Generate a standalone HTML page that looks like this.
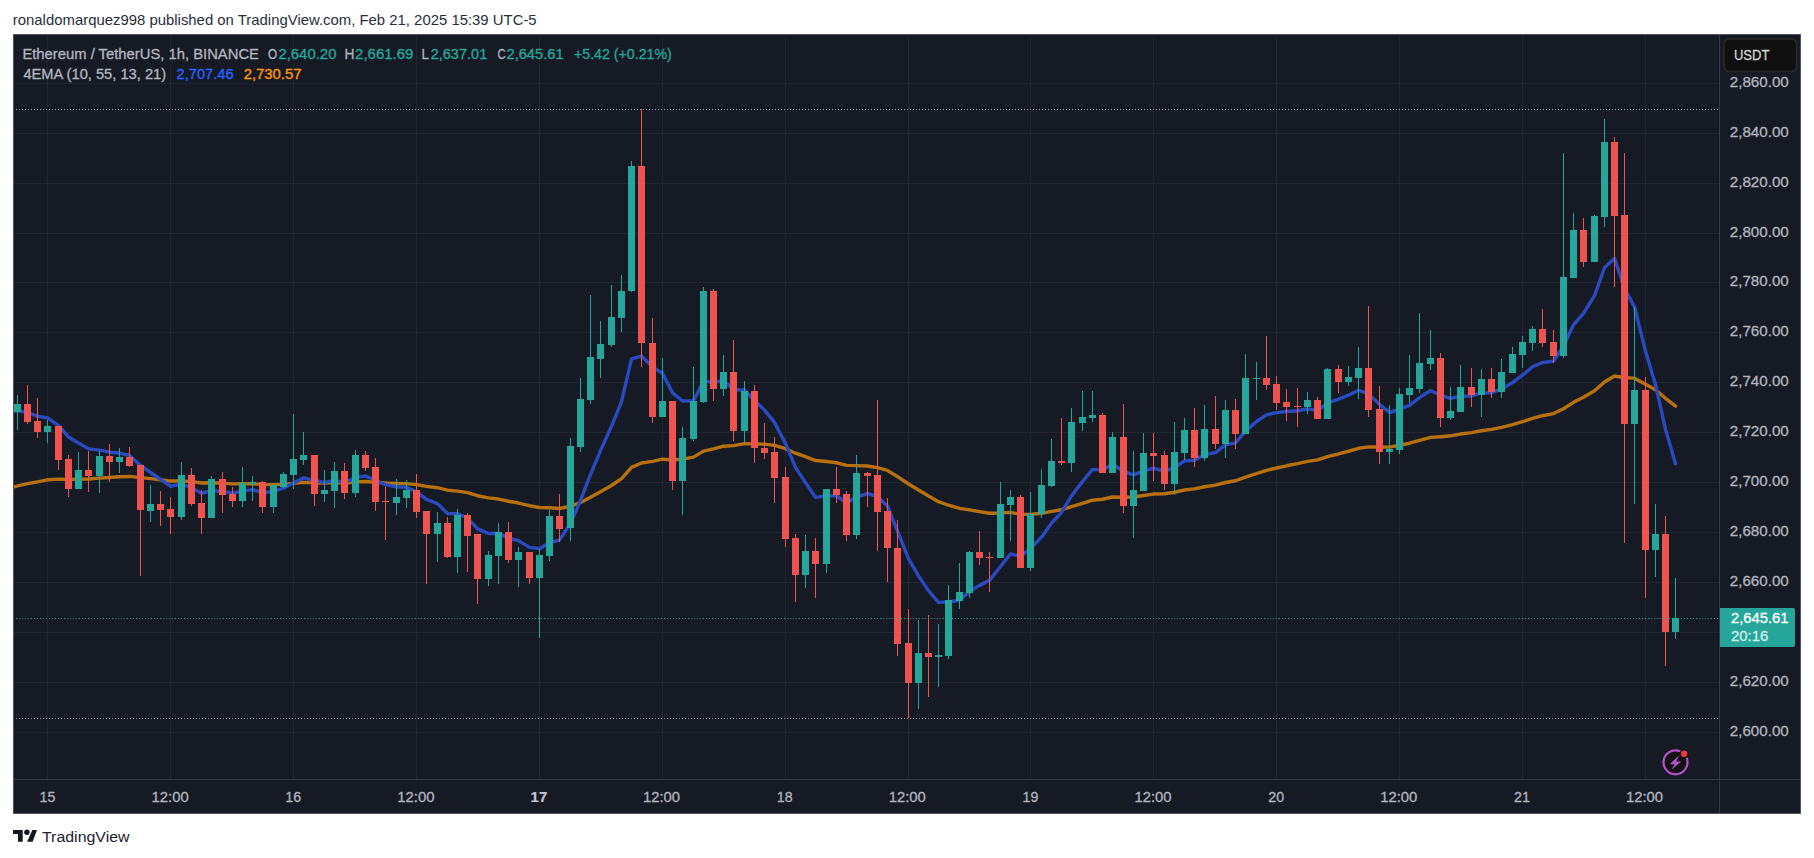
<!DOCTYPE html><html><head><meta charset="utf-8"><style>html,body{margin:0;padding:0;background:#fff;width:1814px;height:858px;overflow:hidden}svg{position:absolute;left:0;top:0;display:block}text{font-family:"Liberation Sans",sans-serif}</style></head><body>
<svg width="1814" height="858" viewBox="0 0 1814 858" shape-rendering="crispEdges">
<text x="12.80" y="24.85" font-size="15" textLength="523.85" lengthAdjust="spacingAndGlyphs" fill="#2a2e39" stroke="#2a2e39" stroke-width="0" >ronaldomarquez998 published on TradingView.com, Feb 21, 2025 15:39 UTC-5</text>
<rect x="13" y="34" width="1788" height="780" fill="#161a25"/>
<rect x="14" y="83" width="1705" height="1" fill="#21252f"/>
<rect x="14" y="133" width="1705" height="1" fill="#21252f"/>
<rect x="14" y="183" width="1705" height="1" fill="#21252f"/>
<rect x="14" y="233" width="1705" height="1" fill="#21252f"/>
<rect x="14" y="282" width="1705" height="1" fill="#21252f"/>
<rect x="14" y="332" width="1705" height="1" fill="#21252f"/>
<rect x="14" y="382" width="1705" height="1" fill="#21252f"/>
<rect x="14" y="432" width="1705" height="1" fill="#21252f"/>
<rect x="14" y="482" width="1705" height="1" fill="#21252f"/>
<rect x="14" y="532" width="1705" height="1" fill="#21252f"/>
<rect x="14" y="582" width="1705" height="1" fill="#21252f"/>
<rect x="14" y="632" width="1705" height="1" fill="#21252f"/>
<rect x="14" y="682" width="1705" height="1" fill="#21252f"/>
<rect x="14" y="732" width="1705" height="1" fill="#21252f"/>
<rect x="47" y="35" width="1" height="744" fill="#21252f"/>
<rect x="170" y="35" width="1" height="744" fill="#21252f"/>
<rect x="293" y="35" width="1" height="744" fill="#21252f"/>
<rect x="416" y="35" width="1" height="744" fill="#21252f"/>
<rect x="539" y="35" width="1" height="744" fill="#21252f"/>
<rect x="662" y="35" width="1" height="744" fill="#21252f"/>
<rect x="785" y="35" width="1" height="744" fill="#21252f"/>
<rect x="908" y="35" width="1" height="744" fill="#21252f"/>
<rect x="1030" y="35" width="1" height="744" fill="#21252f"/>
<rect x="1153" y="35" width="1" height="744" fill="#21252f"/>
<rect x="1276" y="35" width="1" height="744" fill="#21252f"/>
<rect x="1399" y="35" width="1" height="744" fill="#21252f"/>
<rect x="1522" y="35" width="1" height="744" fill="#21252f"/>
<rect x="1645" y="35" width="1" height="744" fill="#21252f"/>
<line x1="16" y1="109.5" x2="1718" y2="109.5" stroke="#a3a6ad" stroke-width="1" stroke-dasharray="1 2"/>
<line x1="16" y1="718.5" x2="1718" y2="718.5" stroke="#a3a6ad" stroke-width="1" stroke-dasharray="1 2"/>
<defs><clipPath id="pane"><rect x="14" y="35" width="1705" height="744"/></clipPath></defs>
<g clip-path="url(#pane)">
<polyline points="6.5,489.00 17.5,485.96 27.5,483.67 37.5,481.81 47.5,479.82 58.5,479.10 68.5,479.45 78.5,479.10 88.5,478.97 99.5,478.14 109.5,477.55 119.5,476.81 129.5,476.43 140.5,477.65 150.5,478.60 160.5,479.71 170.5,481.06 181.5,480.84 191.5,481.66 201.5,482.96 211.5,482.82 222.5,483.24 232.5,483.86 242.5,483.82 252.5,483.76 262.5,484.59 273.5,484.62 283.5,484.24 293.5,483.34 303.5,482.34 314.5,482.74 324.5,483.00 334.5,482.58 344.5,482.95 355.5,481.96 365.5,481.45 375.5,482.18 385.5,482.90 396.5,483.40 406.5,483.64 416.5,484.64 426.5,486.39 437.5,487.71 447.5,490.19 457.5,491.07 467.5,492.67 477.5,495.74 488.5,497.84 498.5,499.06 508.5,501.24 518.5,503.04 529.5,505.72 539.5,507.46 549.5,507.76 559.5,508.50 570.5,506.27 580.5,502.44 590.5,497.24 600.5,491.76 611.5,485.51 621.5,478.56 631.5,467.40 641.5,462.97 652.5,461.34 662.5,459.18 672.5,459.95 682.5,459.17 693.5,457.09 703.5,451.15 713.5,448.93 723.5,446.18 733.5,445.64 744.5,443.69 754.5,443.86 764.5,444.18 774.5,445.38 785.5,448.72 795.5,453.22 805.5,456.71 815.5,460.54 826.5,461.56 836.5,462.76 846.5,465.33 856.5,465.59 867.5,465.96 877.5,467.59 887.5,470.48 897.5,476.66 908.5,484.02 918.5,490.07 928.5,496.02 938.5,501.71 948.5,505.23 959.5,508.34 969.5,509.91 979.5,511.62 989.5,513.27 1000.5,512.95 1010.5,512.38 1020.5,514.36 1030.5,514.34 1041.5,513.30 1051.5,511.43 1061.5,509.70 1071.5,506.56 1082.5,503.36 1092.5,500.20 1102.5,499.23 1112.5,497.00 1123.5,497.32 1133.5,497.05 1143.5,495.48 1153.5,494.07 1164.5,493.72 1174.5,492.23 1184.5,490.01 1194.5,488.86 1204.5,486.72 1215.5,485.18 1225.5,482.50 1235.5,480.76 1245.5,477.10 1256.5,473.57 1266.5,470.40 1276.5,467.98 1286.5,465.79 1297.5,463.69 1307.5,461.43 1317.5,459.90 1327.5,456.65 1338.5,453.98 1348.5,451.24 1358.5,448.27 1368.5,446.91 1379.5,447.07 1389.5,447.15 1399.5,445.26 1409.5,443.21 1419.5,440.35 1430.5,437.42 1440.5,436.71 1450.5,435.80 1460.5,434.05 1471.5,432.65 1481.5,430.74 1491.5,429.35 1501.5,427.31 1512.5,424.69 1522.5,421.74 1532.5,418.42 1542.5,415.73 1553.5,413.58 1563.5,408.71 1573.5,402.32 1583.5,397.30 1594.5,390.83 1604.5,381.94 1614.5,376.01 1624.5,377.73 1634.5,378.17 1645.5,384.32 1655.5,389.67 1665.5,398.31 1675.5,406.16" fill="none" stroke="#b8700c" stroke-width="3.4" stroke-linejoin="round" stroke-linecap="round" shape-rendering="auto"/>
<polyline points="6.5,412.00 17.5,410.50 27.5,412.58 37.5,416.06 47.5,417.85 58.5,425.46 68.5,436.98 78.5,442.93 88.5,448.86 99.5,450.11 109.5,452.19 119.5,453.04 129.5,455.44 140.5,465.45 150.5,472.49 160.5,479.27 170.5,486.22 181.5,484.15 191.5,487.75 201.5,493.24 211.5,490.66 222.5,491.38 232.5,493.08 242.5,491.16 252.5,489.56 262.5,492.70 273.5,491.37 283.5,488.25 293.5,482.94 303.5,477.88 314.5,480.73 324.5,482.42 334.5,480.42 344.5,482.68 355.5,477.66 365.5,475.89 375.5,480.58 385.5,484.55 396.5,486.82 406.5,487.41 416.5,491.83 426.5,499.43 437.5,503.74 447.5,513.45 457.5,513.73 467.5,517.77 477.5,528.83 488.5,533.51 498.5,533.24 508.5,538.09 518.5,540.59 529.5,547.37 539.5,548.68 549.5,542.69 559.5,540.11 570.5,523.02 580.5,500.45 590.5,474.34 600.5,450.61 611.5,426.30 621.5,401.68 631.5,358.83 641.5,356.03 652.5,367.16 662.5,373.29 672.5,392.84 682.5,401.05 693.5,401.02 703.5,381.01 713.5,382.44 723.5,380.55 733.5,389.70 744.5,389.97 754.5,400.58 764.5,410.11 774.5,422.42 785.5,443.60 795.5,467.41 805.5,482.61 815.5,497.38 826.5,495.90 836.5,495.75 846.5,502.83 856.5,497.36 867.5,493.44 877.5,496.76 887.5,506.15 897.5,531.14 908.5,558.70 918.5,575.91 928.5,590.63 938.5,602.37 948.5,602.02 959.5,600.24 969.5,591.50 979.5,585.39 989.5,580.36 1000.5,566.52 1010.5,553.93 1020.5,556.42 1030.5,548.69 1041.5,537.16 1051.5,523.27 1061.5,512.33 1071.5,495.87 1082.5,481.52 1092.5,469.40 1102.5,470.08 1112.5,464.02 1123.5,471.61 1133.5,474.93 1143.5,470.96 1153.5,468.26 1164.5,471.14 1174.5,467.68 1184.5,460.83 1194.5,460.27 1204.5,454.60 1215.5,452.59 1225.5,444.89 1235.5,442.87 1245.5,431.12 1256.5,421.47 1266.5,414.81 1276.5,412.62 1286.5,411.55 1297.5,410.71 1307.5,408.84 1317.5,410.62 1327.5,403.04 1338.5,399.18 1348.5,395.17 1358.5,390.27 1368.5,393.87 1379.5,404.36 1389.5,412.52 1399.5,409.19 1409.5,405.32 1419.5,397.62 1430.5,390.47 1440.5,395.43 1450.5,398.30 1460.5,396.20 1471.5,395.97 1481.5,392.89 1491.5,392.71 1501.5,388.95 1512.5,382.62 1522.5,375.23 1532.5,366.81 1542.5,362.47 1553.5,361.24 1563.5,345.92 1573.5,324.84 1583.5,313.39 1594.5,295.68 1604.5,267.72 1614.5,258.31 1624.5,288.47 1634.5,306.93 1645.5,351.20 1655.5,384.47 1665.5,429.39 1675.5,463.70" fill="none" stroke="#2a4bc0" stroke-width="3.4" stroke-linejoin="round" stroke-linecap="round" shape-rendering="auto"/>
<rect x="17" y="395" width="1" height="35" fill="#26a69a"/>
<rect x="14" y="404" width="7" height="8" fill="#26a69a"/>
<rect x="27" y="385" width="1" height="39" fill="#ef5350"/>
<rect x="24" y="404" width="7" height="18" fill="#ef5350"/>
<rect x="37" y="398" width="1" height="40" fill="#ef5350"/>
<rect x="34" y="421" width="7" height="11" fill="#ef5350"/>
<rect x="47" y="420" width="1" height="23" fill="#26a69a"/>
<rect x="44" y="426" width="7" height="6" fill="#26a69a"/>
<rect x="58" y="426" width="1" height="44" fill="#ef5350"/>
<rect x="55" y="426" width="7" height="34" fill="#ef5350"/>
<rect x="68" y="455" width="1" height="42" fill="#ef5350"/>
<rect x="65" y="459" width="7" height="30" fill="#ef5350"/>
<rect x="78" y="452" width="1" height="37" fill="#26a69a"/>
<rect x="75" y="470" width="7" height="19" fill="#26a69a"/>
<rect x="88" y="451" width="1" height="41" fill="#ef5350"/>
<rect x="85" y="470" width="7" height="6" fill="#ef5350"/>
<rect x="99" y="451" width="1" height="42" fill="#26a69a"/>
<rect x="96" y="456" width="7" height="20" fill="#26a69a"/>
<rect x="109" y="444" width="1" height="38" fill="#ef5350"/>
<rect x="106" y="456" width="7" height="6" fill="#ef5350"/>
<rect x="119" y="448" width="1" height="25" fill="#26a69a"/>
<rect x="116" y="457" width="7" height="5" fill="#26a69a"/>
<rect x="129" y="447" width="1" height="20" fill="#ef5350"/>
<rect x="126" y="457" width="7" height="9" fill="#ef5350"/>
<rect x="140" y="465" width="1" height="111" fill="#ef5350"/>
<rect x="137" y="465" width="7" height="45" fill="#ef5350"/>
<rect x="150" y="485" width="1" height="37" fill="#26a69a"/>
<rect x="147" y="504" width="7" height="7" fill="#26a69a"/>
<rect x="160" y="491" width="1" height="35" fill="#ef5350"/>
<rect x="157" y="504" width="7" height="6" fill="#ef5350"/>
<rect x="170" y="497" width="1" height="37" fill="#ef5350"/>
<rect x="167" y="509" width="7" height="8" fill="#ef5350"/>
<rect x="181" y="462" width="1" height="58" fill="#26a69a"/>
<rect x="178" y="475" width="7" height="42" fill="#26a69a"/>
<rect x="191" y="468" width="1" height="38" fill="#ef5350"/>
<rect x="188" y="475" width="7" height="29" fill="#ef5350"/>
<rect x="201" y="490" width="1" height="44" fill="#ef5350"/>
<rect x="198" y="503" width="7" height="15" fill="#ef5350"/>
<rect x="211" y="476" width="1" height="42" fill="#26a69a"/>
<rect x="208" y="479" width="7" height="39" fill="#26a69a"/>
<rect x="222" y="472" width="1" height="41" fill="#ef5350"/>
<rect x="219" y="479" width="7" height="16" fill="#ef5350"/>
<rect x="232" y="487" width="1" height="20" fill="#ef5350"/>
<rect x="229" y="494" width="7" height="7" fill="#ef5350"/>
<rect x="242" y="467" width="1" height="40" fill="#26a69a"/>
<rect x="239" y="483" width="7" height="18" fill="#26a69a"/>
<rect x="252" y="476" width="1" height="25" fill="#26a69a"/>
<rect x="249" y="482" width="7" height="2" fill="#26a69a"/>
<rect x="262" y="481" width="1" height="32" fill="#ef5350"/>
<rect x="259" y="482" width="7" height="25" fill="#ef5350"/>
<rect x="273" y="485" width="1" height="28" fill="#26a69a"/>
<rect x="270" y="485" width="7" height="22" fill="#26a69a"/>
<rect x="283" y="472" width="1" height="16" fill="#26a69a"/>
<rect x="280" y="474" width="7" height="13" fill="#26a69a"/>
<rect x="293" y="414" width="1" height="75" fill="#26a69a"/>
<rect x="290" y="459" width="7" height="16" fill="#26a69a"/>
<rect x="303" y="432" width="1" height="33" fill="#26a69a"/>
<rect x="300" y="455" width="7" height="5" fill="#26a69a"/>
<rect x="314" y="455" width="1" height="51" fill="#ef5350"/>
<rect x="311" y="455" width="7" height="39" fill="#ef5350"/>
<rect x="324" y="470" width="1" height="32" fill="#26a69a"/>
<rect x="321" y="490" width="7" height="4" fill="#26a69a"/>
<rect x="334" y="462" width="1" height="46" fill="#26a69a"/>
<rect x="331" y="471" width="7" height="20" fill="#26a69a"/>
<rect x="344" y="463" width="1" height="36" fill="#ef5350"/>
<rect x="341" y="471" width="7" height="22" fill="#ef5350"/>
<rect x="355" y="450" width="1" height="47" fill="#26a69a"/>
<rect x="352" y="455" width="7" height="38" fill="#26a69a"/>
<rect x="365" y="451" width="1" height="20" fill="#ef5350"/>
<rect x="362" y="455" width="7" height="13" fill="#ef5350"/>
<rect x="375" y="458" width="1" height="53" fill="#ef5350"/>
<rect x="372" y="467" width="7" height="35" fill="#ef5350"/>
<rect x="385" y="487" width="1" height="53" fill="#ef5350"/>
<rect x="382" y="501" width="7" height="1" fill="#ef5350"/>
<rect x="396" y="479" width="1" height="36" fill="#26a69a"/>
<rect x="393" y="497" width="7" height="6" fill="#26a69a"/>
<rect x="406" y="480" width="1" height="28" fill="#26a69a"/>
<rect x="403" y="490" width="7" height="8" fill="#26a69a"/>
<rect x="416" y="474" width="1" height="44" fill="#ef5350"/>
<rect x="413" y="490" width="7" height="22" fill="#ef5350"/>
<rect x="426" y="511" width="1" height="73" fill="#ef5350"/>
<rect x="423" y="511" width="7" height="23" fill="#ef5350"/>
<rect x="437" y="512" width="1" height="50" fill="#26a69a"/>
<rect x="434" y="523" width="7" height="11" fill="#26a69a"/>
<rect x="447" y="517" width="1" height="41" fill="#ef5350"/>
<rect x="444" y="523" width="7" height="34" fill="#ef5350"/>
<rect x="457" y="509" width="1" height="64" fill="#26a69a"/>
<rect x="454" y="515" width="7" height="42" fill="#26a69a"/>
<rect x="467" y="513" width="1" height="59" fill="#ef5350"/>
<rect x="464" y="515" width="7" height="21" fill="#ef5350"/>
<rect x="477" y="534" width="1" height="70" fill="#ef5350"/>
<rect x="474" y="534" width="7" height="45" fill="#ef5350"/>
<rect x="488" y="551" width="1" height="35" fill="#26a69a"/>
<rect x="485" y="555" width="7" height="24" fill="#26a69a"/>
<rect x="498" y="523" width="1" height="61" fill="#26a69a"/>
<rect x="495" y="532" width="7" height="24" fill="#26a69a"/>
<rect x="508" y="522" width="1" height="41" fill="#ef5350"/>
<rect x="505" y="532" width="7" height="28" fill="#ef5350"/>
<rect x="518" y="547" width="1" height="40" fill="#26a69a"/>
<rect x="515" y="552" width="7" height="8" fill="#26a69a"/>
<rect x="529" y="552" width="1" height="32" fill="#ef5350"/>
<rect x="526" y="552" width="7" height="26" fill="#ef5350"/>
<rect x="539" y="549" width="1" height="89" fill="#26a69a"/>
<rect x="536" y="555" width="7" height="23" fill="#26a69a"/>
<rect x="549" y="510" width="1" height="51" fill="#26a69a"/>
<rect x="546" y="516" width="7" height="40" fill="#26a69a"/>
<rect x="559" y="494" width="1" height="48" fill="#ef5350"/>
<rect x="556" y="516" width="7" height="13" fill="#ef5350"/>
<rect x="570" y="438" width="1" height="103" fill="#26a69a"/>
<rect x="567" y="446" width="7" height="82" fill="#26a69a"/>
<rect x="580" y="378" width="1" height="74" fill="#26a69a"/>
<rect x="577" y="399" width="7" height="48" fill="#26a69a"/>
<rect x="590" y="295" width="1" height="109" fill="#26a69a"/>
<rect x="587" y="357" width="7" height="43" fill="#26a69a"/>
<rect x="600" y="321" width="1" height="57" fill="#26a69a"/>
<rect x="597" y="344" width="7" height="15" fill="#26a69a"/>
<rect x="611" y="285" width="1" height="62" fill="#26a69a"/>
<rect x="608" y="317" width="7" height="28" fill="#26a69a"/>
<rect x="621" y="275" width="1" height="57" fill="#26a69a"/>
<rect x="618" y="291" width="7" height="27" fill="#26a69a"/>
<rect x="631" y="161" width="1" height="131" fill="#26a69a"/>
<rect x="628" y="166" width="7" height="125" fill="#26a69a"/>
<rect x="641" y="109" width="1" height="258" fill="#ef5350"/>
<rect x="638" y="166" width="7" height="177" fill="#ef5350"/>
<rect x="652" y="318" width="1" height="105" fill="#ef5350"/>
<rect x="649" y="343" width="7" height="74" fill="#ef5350"/>
<rect x="662" y="358" width="1" height="59" fill="#26a69a"/>
<rect x="659" y="401" width="7" height="16" fill="#26a69a"/>
<rect x="672" y="401" width="1" height="89" fill="#ef5350"/>
<rect x="669" y="401" width="7" height="80" fill="#ef5350"/>
<rect x="682" y="427" width="1" height="88" fill="#26a69a"/>
<rect x="679" y="438" width="7" height="43" fill="#26a69a"/>
<rect x="693" y="367" width="1" height="74" fill="#26a69a"/>
<rect x="690" y="401" width="7" height="38" fill="#26a69a"/>
<rect x="703" y="287" width="1" height="116" fill="#26a69a"/>
<rect x="700" y="291" width="7" height="111" fill="#26a69a"/>
<rect x="713" y="289" width="1" height="112" fill="#ef5350"/>
<rect x="710" y="291" width="7" height="98" fill="#ef5350"/>
<rect x="723" y="355" width="1" height="41" fill="#26a69a"/>
<rect x="720" y="372" width="7" height="17" fill="#26a69a"/>
<rect x="733" y="340" width="1" height="101" fill="#ef5350"/>
<rect x="730" y="372" width="7" height="59" fill="#ef5350"/>
<rect x="744" y="381" width="1" height="61" fill="#26a69a"/>
<rect x="741" y="391" width="7" height="40" fill="#26a69a"/>
<rect x="754" y="385" width="1" height="78" fill="#ef5350"/>
<rect x="751" y="391" width="7" height="57" fill="#ef5350"/>
<rect x="764" y="423" width="1" height="36" fill="#ef5350"/>
<rect x="761" y="448" width="7" height="5" fill="#ef5350"/>
<rect x="774" y="437" width="1" height="66" fill="#ef5350"/>
<rect x="771" y="452" width="7" height="26" fill="#ef5350"/>
<rect x="785" y="467" width="1" height="80" fill="#ef5350"/>
<rect x="782" y="477" width="7" height="62" fill="#ef5350"/>
<rect x="795" y="534" width="1" height="68" fill="#ef5350"/>
<rect x="792" y="538" width="7" height="37" fill="#ef5350"/>
<rect x="805" y="535" width="1" height="53" fill="#26a69a"/>
<rect x="802" y="551" width="7" height="24" fill="#26a69a"/>
<rect x="815" y="538" width="1" height="60" fill="#ef5350"/>
<rect x="812" y="551" width="7" height="13" fill="#ef5350"/>
<rect x="826" y="489" width="1" height="84" fill="#26a69a"/>
<rect x="823" y="489" width="7" height="75" fill="#26a69a"/>
<rect x="836" y="467" width="1" height="36" fill="#ef5350"/>
<rect x="833" y="489" width="7" height="6" fill="#ef5350"/>
<rect x="846" y="491" width="1" height="50" fill="#ef5350"/>
<rect x="843" y="494" width="7" height="41" fill="#ef5350"/>
<rect x="856" y="455" width="1" height="84" fill="#26a69a"/>
<rect x="853" y="473" width="7" height="62" fill="#26a69a"/>
<rect x="867" y="472" width="1" height="35" fill="#ef5350"/>
<rect x="864" y="473" width="7" height="3" fill="#ef5350"/>
<rect x="877" y="400" width="1" height="151" fill="#ef5350"/>
<rect x="874" y="475" width="7" height="37" fill="#ef5350"/>
<rect x="887" y="498" width="1" height="84" fill="#ef5350"/>
<rect x="884" y="511" width="7" height="37" fill="#ef5350"/>
<rect x="897" y="520" width="1" height="136" fill="#ef5350"/>
<rect x="894" y="548" width="7" height="96" fill="#ef5350"/>
<rect x="908" y="609" width="1" height="109" fill="#ef5350"/>
<rect x="905" y="643" width="7" height="40" fill="#ef5350"/>
<rect x="918" y="620" width="1" height="89" fill="#26a69a"/>
<rect x="915" y="653" width="7" height="30" fill="#26a69a"/>
<rect x="928" y="615" width="1" height="82" fill="#ef5350"/>
<rect x="925" y="653" width="7" height="4" fill="#ef5350"/>
<rect x="938" y="624" width="1" height="63" fill="#26a69a"/>
<rect x="935" y="655" width="7" height="2" fill="#26a69a"/>
<rect x="948" y="585" width="1" height="74" fill="#26a69a"/>
<rect x="945" y="600" width="7" height="56" fill="#26a69a"/>
<rect x="959" y="563" width="1" height="46" fill="#26a69a"/>
<rect x="956" y="592" width="7" height="9" fill="#26a69a"/>
<rect x="969" y="551" width="1" height="47" fill="#26a69a"/>
<rect x="966" y="552" width="7" height="41" fill="#26a69a"/>
<rect x="979" y="531" width="1" height="34" fill="#ef5350"/>
<rect x="976" y="552" width="7" height="6" fill="#ef5350"/>
<rect x="989" y="552" width="1" height="40" fill="#ef5350"/>
<rect x="986" y="557" width="7" height="1" fill="#ef5350"/>
<rect x="1000" y="482" width="1" height="76" fill="#26a69a"/>
<rect x="997" y="504" width="7" height="54" fill="#26a69a"/>
<rect x="1010" y="490" width="1" height="51" fill="#26a69a"/>
<rect x="1007" y="497" width="7" height="8" fill="#26a69a"/>
<rect x="1020" y="495" width="1" height="73" fill="#ef5350"/>
<rect x="1017" y="497" width="7" height="71" fill="#ef5350"/>
<rect x="1030" y="492" width="1" height="79" fill="#26a69a"/>
<rect x="1027" y="514" width="7" height="54" fill="#26a69a"/>
<rect x="1041" y="469" width="1" height="49" fill="#26a69a"/>
<rect x="1038" y="485" width="7" height="29" fill="#26a69a"/>
<rect x="1051" y="439" width="1" height="48" fill="#26a69a"/>
<rect x="1048" y="461" width="7" height="25" fill="#26a69a"/>
<rect x="1061" y="418" width="1" height="47" fill="#ef5350"/>
<rect x="1058" y="461" width="7" height="2" fill="#ef5350"/>
<rect x="1071" y="408" width="1" height="64" fill="#26a69a"/>
<rect x="1068" y="422" width="7" height="41" fill="#26a69a"/>
<rect x="1082" y="391" width="1" height="40" fill="#26a69a"/>
<rect x="1079" y="417" width="7" height="6" fill="#26a69a"/>
<rect x="1092" y="391" width="1" height="31" fill="#26a69a"/>
<rect x="1089" y="415" width="7" height="3" fill="#26a69a"/>
<rect x="1102" y="413" width="1" height="60" fill="#ef5350"/>
<rect x="1099" y="415" width="7" height="58" fill="#ef5350"/>
<rect x="1112" y="432" width="1" height="41" fill="#26a69a"/>
<rect x="1109" y="437" width="7" height="36" fill="#26a69a"/>
<rect x="1123" y="404" width="1" height="109" fill="#ef5350"/>
<rect x="1120" y="437" width="7" height="69" fill="#ef5350"/>
<rect x="1133" y="451" width="1" height="87" fill="#26a69a"/>
<rect x="1130" y="490" width="7" height="16" fill="#26a69a"/>
<rect x="1143" y="433" width="1" height="58" fill="#26a69a"/>
<rect x="1140" y="453" width="7" height="38" fill="#26a69a"/>
<rect x="1153" y="433" width="1" height="48" fill="#ef5350"/>
<rect x="1150" y="453" width="7" height="3" fill="#ef5350"/>
<rect x="1164" y="451" width="1" height="39" fill="#ef5350"/>
<rect x="1161" y="455" width="7" height="29" fill="#ef5350"/>
<rect x="1174" y="422" width="1" height="73" fill="#26a69a"/>
<rect x="1171" y="452" width="7" height="32" fill="#26a69a"/>
<rect x="1184" y="418" width="1" height="42" fill="#26a69a"/>
<rect x="1181" y="430" width="7" height="23" fill="#26a69a"/>
<rect x="1194" y="408" width="1" height="59" fill="#ef5350"/>
<rect x="1191" y="430" width="7" height="28" fill="#ef5350"/>
<rect x="1204" y="405" width="1" height="56" fill="#26a69a"/>
<rect x="1201" y="429" width="7" height="29" fill="#26a69a"/>
<rect x="1215" y="396" width="1" height="53" fill="#ef5350"/>
<rect x="1212" y="429" width="7" height="15" fill="#ef5350"/>
<rect x="1225" y="400" width="1" height="58" fill="#26a69a"/>
<rect x="1222" y="410" width="7" height="34" fill="#26a69a"/>
<rect x="1235" y="399" width="1" height="50" fill="#ef5350"/>
<rect x="1232" y="410" width="7" height="24" fill="#ef5350"/>
<rect x="1245" y="354" width="1" height="80" fill="#26a69a"/>
<rect x="1242" y="378" width="7" height="56" fill="#26a69a"/>
<rect x="1256" y="362" width="1" height="38" fill="#26a69a"/>
<rect x="1253" y="378" width="7" height="1" fill="#26a69a"/>
<rect x="1266" y="336" width="1" height="54" fill="#ef5350"/>
<rect x="1263" y="378" width="7" height="7" fill="#ef5350"/>
<rect x="1276" y="376" width="1" height="34" fill="#ef5350"/>
<rect x="1273" y="384" width="7" height="19" fill="#ef5350"/>
<rect x="1286" y="389" width="1" height="32" fill="#ef5350"/>
<rect x="1283" y="402" width="7" height="5" fill="#ef5350"/>
<rect x="1297" y="388" width="1" height="39" fill="#ef5350"/>
<rect x="1294" y="406" width="7" height="1" fill="#ef5350"/>
<rect x="1307" y="392" width="1" height="22" fill="#26a69a"/>
<rect x="1304" y="400" width="7" height="7" fill="#26a69a"/>
<rect x="1317" y="397" width="1" height="22" fill="#ef5350"/>
<rect x="1314" y="400" width="7" height="19" fill="#ef5350"/>
<rect x="1327" y="368" width="1" height="51" fill="#26a69a"/>
<rect x="1324" y="369" width="7" height="50" fill="#26a69a"/>
<rect x="1338" y="365" width="1" height="28" fill="#ef5350"/>
<rect x="1335" y="369" width="7" height="13" fill="#ef5350"/>
<rect x="1348" y="366" width="1" height="20" fill="#26a69a"/>
<rect x="1345" y="377" width="7" height="5" fill="#26a69a"/>
<rect x="1358" y="347" width="1" height="52" fill="#26a69a"/>
<rect x="1355" y="368" width="7" height="10" fill="#26a69a"/>
<rect x="1368" y="306" width="1" height="111" fill="#ef5350"/>
<rect x="1365" y="368" width="7" height="42" fill="#ef5350"/>
<rect x="1379" y="386" width="1" height="78" fill="#ef5350"/>
<rect x="1376" y="409" width="7" height="43" fill="#ef5350"/>
<rect x="1389" y="405" width="1" height="59" fill="#26a69a"/>
<rect x="1386" y="449" width="7" height="3" fill="#26a69a"/>
<rect x="1399" y="388" width="1" height="66" fill="#26a69a"/>
<rect x="1396" y="394" width="7" height="56" fill="#26a69a"/>
<rect x="1409" y="355" width="1" height="48" fill="#26a69a"/>
<rect x="1406" y="388" width="7" height="7" fill="#26a69a"/>
<rect x="1419" y="313" width="1" height="80" fill="#26a69a"/>
<rect x="1416" y="363" width="7" height="26" fill="#26a69a"/>
<rect x="1430" y="330" width="1" height="40" fill="#26a69a"/>
<rect x="1427" y="358" width="7" height="6" fill="#26a69a"/>
<rect x="1440" y="353" width="1" height="74" fill="#ef5350"/>
<rect x="1437" y="358" width="7" height="60" fill="#ef5350"/>
<rect x="1450" y="387" width="1" height="33" fill="#26a69a"/>
<rect x="1447" y="411" width="7" height="7" fill="#26a69a"/>
<rect x="1460" y="365" width="1" height="47" fill="#26a69a"/>
<rect x="1457" y="387" width="7" height="25" fill="#26a69a"/>
<rect x="1471" y="368" width="1" height="39" fill="#ef5350"/>
<rect x="1468" y="387" width="7" height="8" fill="#ef5350"/>
<rect x="1481" y="369" width="1" height="48" fill="#26a69a"/>
<rect x="1478" y="379" width="7" height="16" fill="#26a69a"/>
<rect x="1491" y="368" width="1" height="30" fill="#ef5350"/>
<rect x="1488" y="379" width="7" height="13" fill="#ef5350"/>
<rect x="1501" y="359" width="1" height="39" fill="#26a69a"/>
<rect x="1498" y="372" width="7" height="20" fill="#26a69a"/>
<rect x="1512" y="347" width="1" height="26" fill="#26a69a"/>
<rect x="1509" y="354" width="7" height="19" fill="#26a69a"/>
<rect x="1522" y="336" width="1" height="32" fill="#26a69a"/>
<rect x="1519" y="342" width="7" height="13" fill="#26a69a"/>
<rect x="1532" y="326" width="1" height="25" fill="#26a69a"/>
<rect x="1529" y="329" width="7" height="14" fill="#26a69a"/>
<rect x="1542" y="309" width="1" height="38" fill="#ef5350"/>
<rect x="1539" y="329" width="7" height="14" fill="#ef5350"/>
<rect x="1553" y="330" width="1" height="33" fill="#ef5350"/>
<rect x="1550" y="342" width="7" height="14" fill="#ef5350"/>
<rect x="1563" y="153" width="1" height="205" fill="#26a69a"/>
<rect x="1560" y="277" width="7" height="79" fill="#26a69a"/>
<rect x="1573" y="213" width="1" height="65" fill="#26a69a"/>
<rect x="1570" y="230" width="7" height="48" fill="#26a69a"/>
<rect x="1583" y="218" width="1" height="49" fill="#ef5350"/>
<rect x="1580" y="230" width="7" height="32" fill="#ef5350"/>
<rect x="1594" y="215" width="1" height="47" fill="#26a69a"/>
<rect x="1591" y="216" width="7" height="46" fill="#26a69a"/>
<rect x="1604" y="119" width="1" height="108" fill="#26a69a"/>
<rect x="1601" y="142" width="7" height="75" fill="#26a69a"/>
<rect x="1614" y="137" width="1" height="150" fill="#ef5350"/>
<rect x="1611" y="142" width="7" height="74" fill="#ef5350"/>
<rect x="1624" y="153" width="1" height="390" fill="#ef5350"/>
<rect x="1621" y="215" width="7" height="209" fill="#ef5350"/>
<rect x="1634" y="307" width="1" height="197" fill="#26a69a"/>
<rect x="1631" y="390" width="7" height="34" fill="#26a69a"/>
<rect x="1645" y="377" width="1" height="221" fill="#ef5350"/>
<rect x="1642" y="390" width="7" height="160" fill="#ef5350"/>
<rect x="1655" y="504" width="1" height="73" fill="#26a69a"/>
<rect x="1652" y="534" width="7" height="16" fill="#26a69a"/>
<rect x="1665" y="516" width="1" height="150" fill="#ef5350"/>
<rect x="1662" y="534" width="7" height="98" fill="#ef5350"/>
<rect x="1675" y="578" width="1" height="61" fill="#26a69a"/>
<rect x="1672" y="618" width="7" height="14" fill="#26a69a"/>
</g>
<line x1="16" y1="618.5" x2="1718" y2="618.5" stroke="#26a69a" stroke-width="1" stroke-dasharray="1 2"/>
<text x="22.40" y="58.70" font-size="14" textLength="236.59" lengthAdjust="spacingAndGlyphs" fill="#b2b5be" stroke="#b2b5be" stroke-width="0.3" >Ethereum / TetherUS, 1h, BINANCE</text>
<text x="268.00" y="58.70" font-size="14" textLength="9.14" lengthAdjust="spacingAndGlyphs" fill="#b2b5be" stroke="#b2b5be" stroke-width="0.3" >O</text>
<text x="344.40" y="58.70" font-size="14" textLength="9.94" lengthAdjust="spacingAndGlyphs" fill="#b2b5be" stroke="#b2b5be" stroke-width="0.3" >H</text>
<text x="421.60" y="58.70" font-size="14" textLength="7.47" lengthAdjust="spacingAndGlyphs" fill="#b2b5be" stroke="#b2b5be" stroke-width="0.3" >L</text>
<text x="497.50" y="58.70" font-size="14" textLength="8.1" lengthAdjust="spacingAndGlyphs" fill="#b2b5be" stroke="#b2b5be" stroke-width="0.3" >C</text>
<text x="278.40" y="58.70" font-size="14" textLength="58.04" lengthAdjust="spacingAndGlyphs" fill="#26a69a" stroke="#26a69a" stroke-width="0.3" >2,640.20</text>
<text x="355.10" y="58.70" font-size="14" textLength="58.23" lengthAdjust="spacingAndGlyphs" fill="#26a69a" stroke="#26a69a" stroke-width="0.3" >2,661.69</text>
<text x="430.70" y="58.70" font-size="14" textLength="56.52" lengthAdjust="spacingAndGlyphs" fill="#26a69a" stroke="#26a69a" stroke-width="0.3" >2,637.01</text>
<text x="506.50" y="58.70" font-size="14" textLength="57.03" lengthAdjust="spacingAndGlyphs" fill="#26a69a" stroke="#26a69a" stroke-width="0.3" >2,645.61</text>
<text x="574.00" y="58.70" font-size="14" textLength="97.82" lengthAdjust="spacingAndGlyphs" fill="#26a69a" stroke="#26a69a" stroke-width="0.3" >+5.42 (+0.21%)</text>
<text x="23.40" y="79.40" font-size="14" textLength="142.71" lengthAdjust="spacingAndGlyphs" fill="#b2b5be" stroke="#b2b5be" stroke-width="0.3" >4EMA (10, 55, 13, 21)</text>
<text x="176.60" y="79.40" font-size="14" textLength="56.92" lengthAdjust="spacingAndGlyphs" fill="#2962ff" stroke="#2962ff" stroke-width="0.3" >2,707.46</text>
<text x="243.70" y="79.40" font-size="14" textLength="57.83" lengthAdjust="spacingAndGlyphs" fill="#ff9800" stroke="#ff9800" stroke-width="0.3" >2,730.57</text>
<rect x="1719" y="35" width="1" height="779" fill="#363a45"/>
<rect x="14" y="779" width="1705" height="1" fill="#363a45"/>
<rect x="1720" y="779" width="81" height="1" fill="#363a45"/>
<text x="1729.80" y="87.25" font-size="15" textLength="59.0" lengthAdjust="spacingAndGlyphs" fill="#b2b5be" stroke="#b2b5be" stroke-width="0.3" >2,860.00</text>
<text x="1729.80" y="137.25" font-size="15" textLength="59.0" lengthAdjust="spacingAndGlyphs" fill="#b2b5be" stroke="#b2b5be" stroke-width="0.3" >2,840.00</text>
<text x="1729.80" y="187.25" font-size="15" textLength="59.0" lengthAdjust="spacingAndGlyphs" fill="#b2b5be" stroke="#b2b5be" stroke-width="0.3" >2,820.00</text>
<text x="1729.80" y="237.25" font-size="15" textLength="59.0" lengthAdjust="spacingAndGlyphs" fill="#b2b5be" stroke="#b2b5be" stroke-width="0.3" >2,800.00</text>
<text x="1729.80" y="286.25" font-size="15" textLength="59.0" lengthAdjust="spacingAndGlyphs" fill="#b2b5be" stroke="#b2b5be" stroke-width="0.3" >2,780.00</text>
<text x="1729.80" y="336.25" font-size="15" textLength="59.0" lengthAdjust="spacingAndGlyphs" fill="#b2b5be" stroke="#b2b5be" stroke-width="0.3" >2,760.00</text>
<text x="1729.80" y="386.25" font-size="15" textLength="59.0" lengthAdjust="spacingAndGlyphs" fill="#b2b5be" stroke="#b2b5be" stroke-width="0.3" >2,740.00</text>
<text x="1729.80" y="436.25" font-size="15" textLength="59.0" lengthAdjust="spacingAndGlyphs" fill="#b2b5be" stroke="#b2b5be" stroke-width="0.3" >2,720.00</text>
<text x="1729.80" y="486.25" font-size="15" textLength="59.0" lengthAdjust="spacingAndGlyphs" fill="#b2b5be" stroke="#b2b5be" stroke-width="0.3" >2,700.00</text>
<text x="1729.80" y="536.25" font-size="15" textLength="59.0" lengthAdjust="spacingAndGlyphs" fill="#b2b5be" stroke="#b2b5be" stroke-width="0.3" >2,680.00</text>
<text x="1729.80" y="586.25" font-size="15" textLength="59.0" lengthAdjust="spacingAndGlyphs" fill="#b2b5be" stroke="#b2b5be" stroke-width="0.3" >2,660.00</text>
<text x="1729.80" y="636.25" font-size="15" textLength="59.0" lengthAdjust="spacingAndGlyphs" fill="#b2b5be" stroke="#b2b5be" stroke-width="0.3" >2,640.00</text>
<text x="1729.80" y="686.25" font-size="15" textLength="59.0" lengthAdjust="spacingAndGlyphs" fill="#b2b5be" stroke="#b2b5be" stroke-width="0.3" >2,620.00</text>
<text x="1729.80" y="736.25" font-size="15" textLength="59.0" lengthAdjust="spacingAndGlyphs" fill="#b2b5be" stroke="#b2b5be" stroke-width="0.3" >2,600.00</text>
<rect x="1724" y="39" width="72.5" height="32.5" rx="5" fill="#0f0f0f" stroke="#2b2b2b" stroke-width="1.5" shape-rendering="auto"/>
<text x="1734.00" y="60.00" font-size="15" textLength="35.33" lengthAdjust="spacingAndGlyphs" fill="#d6d6d6" stroke="#d6d6d6" stroke-width="0.3" >USDT</text>
<path d="M1720 608 h73 a2 2 0 0 1 2 2 v35 a2 2 0 0 1 -2 2 h-73 z" fill="#26a69a" shape-rendering="auto"/>
<text x="1731.00" y="622.80" font-size="15.5" textLength="57.53" lengthAdjust="spacingAndGlyphs" fill="#ffffff" stroke="#ffffff" stroke-width="0.3" >2,645.61</text>
<text x="1731.00" y="640.70" font-size="15" textLength="37.15" lengthAdjust="spacingAndGlyphs" fill="#d2eeea" stroke="#d2eeea" stroke-width="0.3" >20:16</text>
<text x="39.55" y="801.60" font-size="15" textLength="15.82" lengthAdjust="spacingAndGlyphs" fill="#b2b5be" stroke="#b2b5be" stroke-width="0.3" >15</text>
<text x="151.52" y="801.60" font-size="15" textLength="37.14" lengthAdjust="spacingAndGlyphs" fill="#b2b5be" stroke="#b2b5be" stroke-width="0.3" >12:00</text>
<text x="285.29" y="801.60" font-size="15" textLength="15.82" lengthAdjust="spacingAndGlyphs" fill="#b2b5be" stroke="#b2b5be" stroke-width="0.3" >16</text>
<text x="397.25" y="801.60" font-size="15" textLength="37.14" lengthAdjust="spacingAndGlyphs" fill="#b2b5be" stroke="#b2b5be" stroke-width="0.3" >12:00</text>
<text x="530.62" y="801.8" font-size="15" font-weight="bold" textLength="16.6" lengthAdjust="spacingAndGlyphs" fill="#c3c6ce" stroke="#c3c6ce" stroke-width="0.2">17</text>
<text x="642.99" y="801.60" font-size="15" textLength="37.14" lengthAdjust="spacingAndGlyphs" fill="#b2b5be" stroke="#b2b5be" stroke-width="0.3" >12:00</text>
<text x="776.76" y="801.60" font-size="15" textLength="15.82" lengthAdjust="spacingAndGlyphs" fill="#b2b5be" stroke="#b2b5be" stroke-width="0.3" >18</text>
<text x="888.73" y="801.60" font-size="15" textLength="37.14" lengthAdjust="spacingAndGlyphs" fill="#b2b5be" stroke="#b2b5be" stroke-width="0.3" >12:00</text>
<text x="1022.49" y="801.60" font-size="15" textLength="15.82" lengthAdjust="spacingAndGlyphs" fill="#b2b5be" stroke="#b2b5be" stroke-width="0.3" >19</text>
<text x="1134.46" y="801.60" font-size="15" textLength="37.14" lengthAdjust="spacingAndGlyphs" fill="#b2b5be" stroke="#b2b5be" stroke-width="0.3" >12:00</text>
<text x="1268.23" y="801.60" font-size="15" textLength="15.82" lengthAdjust="spacingAndGlyphs" fill="#b2b5be" stroke="#b2b5be" stroke-width="0.3" >20</text>
<text x="1380.20" y="801.60" font-size="15" textLength="37.14" lengthAdjust="spacingAndGlyphs" fill="#b2b5be" stroke="#b2b5be" stroke-width="0.3" >12:00</text>
<text x="1513.97" y="801.60" font-size="15" textLength="15.82" lengthAdjust="spacingAndGlyphs" fill="#b2b5be" stroke="#b2b5be" stroke-width="0.3" >21</text>
<text x="1625.93" y="801.60" font-size="15" textLength="37.14" lengthAdjust="spacingAndGlyphs" fill="#b2b5be" stroke="#b2b5be" stroke-width="0.3" >12:00</text>
<g shape-rendering="auto"><circle cx="1675.5" cy="762.3" r="13.3" fill="#131313"/>
<circle cx="1675.5" cy="762.3" r="12" fill="none" stroke="#b84fd0" stroke-width="2.2"/>
<circle cx="1684.1" cy="753.8" r="4.8" fill="#131313"/><circle cx="1684.1" cy="753.8" r="3.2" fill="#f23645"/>
<path d="M1679.2 755.3 L1669.8 764.2 L1674.5 764.2 L1671.6 769.8 L1681.2 761.4 L1676.2 761.6 Z" fill="#b84fd0"/></g>
<rect x="13.5" y="34.5" width="1787" height="779" fill="none" stroke="#50535c" stroke-width="1"/>
<g fill="#131722" shape-rendering="auto"><path d="M13 830 h9.7 v11.7 h-4.7 v-7.7 h-5 z"/><circle cx="26.9" cy="832.3" r="2.7"/><path d="M32.3 830 H37 L32.6 841.7 H27.2 Z"/></g>
<text x="42.00" y="842.10" font-size="15.5" textLength="87.51" lengthAdjust="spacingAndGlyphs" fill="#1e222d" stroke="#1e222d" stroke-width="0" >TradingView</text>
</svg></body></html>
